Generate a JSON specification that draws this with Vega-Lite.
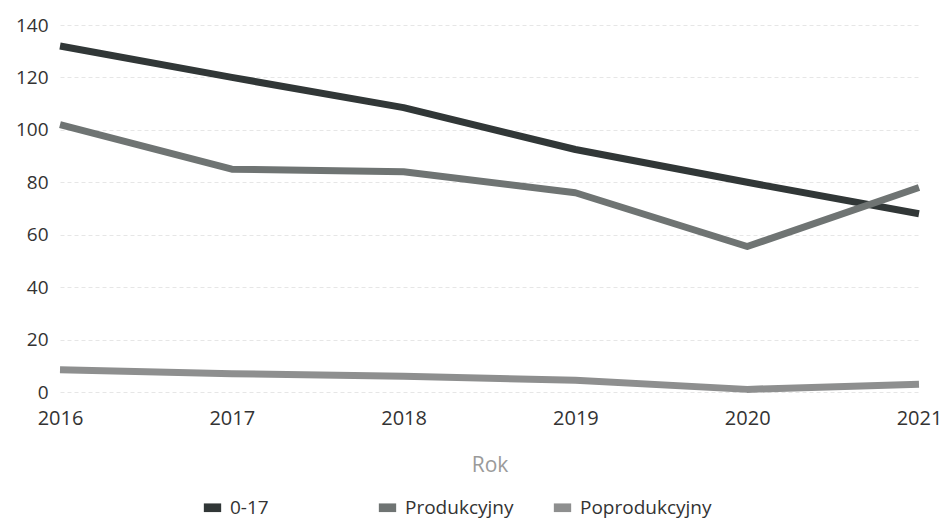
{
  "$schema": "https://vega.github.io/schema/vega-lite/v6.json",
  "width": 859,
  "height": 367,
  "autosize": {"type": "none"},
  "padding": {"left": 60, "top": 25, "right": 22, "bottom": 131},
  "background": "white",
  "config": {
    "font": "Open Sans",
    "view": {"stroke": null},
    "axis": {"labelFont": "Open Sans", "titleFont": "Open Sans"},
    "legend": {"labelFont": "Open Sans"}
  },
  "data": {
    "values": [
      {"Rok": "2016", "grupa": "0-17", "wartosc": 132},
      {"Rok": "2017", "grupa": "0-17", "wartosc": 120},
      {"Rok": "2018", "grupa": "0-17", "wartosc": 108.5},
      {"Rok": "2019", "grupa": "0-17", "wartosc": 92.5},
      {"Rok": "2020", "grupa": "0-17", "wartosc": 80},
      {"Rok": "2021", "grupa": "0-17", "wartosc": 68},
      {"Rok": "2016", "grupa": "Produkcyjny", "wartosc": 102},
      {"Rok": "2017", "grupa": "Produkcyjny", "wartosc": 85},
      {"Rok": "2018", "grupa": "Produkcyjny", "wartosc": 84},
      {"Rok": "2019", "grupa": "Produkcyjny", "wartosc": 76},
      {"Rok": "2020", "grupa": "Produkcyjny", "wartosc": 55.5},
      {"Rok": "2021", "grupa": "Produkcyjny", "wartosc": 78},
      {"Rok": "2016", "grupa": "Poprodukcyjny", "wartosc": 8.5},
      {"Rok": "2017", "grupa": "Poprodukcyjny", "wartosc": 7},
      {"Rok": "2018", "grupa": "Poprodukcyjny", "wartosc": 6},
      {"Rok": "2019", "grupa": "Poprodukcyjny", "wartosc": 4.5},
      {"Rok": "2020", "grupa": "Poprodukcyjny", "wartosc": 1},
      {"Rok": "2021", "grupa": "Poprodukcyjny", "wartosc": 3}
    ]
  },
  "mark": {"type": "line", "strokeWidth": 7, "strokeCap": "butt", "strokeJoin": "round"},
  "encoding": {
    "x": {
      "field": "Rok",
      "type": "ordinal",
      "scale": {"type": "point", "padding": 0},
      "axis": {
        "title": "Rok",
        "titleColor": "#9a9a9a",
        "titleFontSize": 21,
        "titleFontWeight": "normal",
        "titlePadding": 26,
        "labelAngle": 0,
        "labelFontSize": 20,
        "labelColor": "#333333",
        "labelPadding": 16,
        "domain": false,
        "ticks": false,
        "grid": false
      }
    },
    "y": {
      "field": "wartosc",
      "type": "quantitative",
      "scale": {"domain": [0, 140], "nice": false},
      "axis": {
        "title": null,
        "values": [0, 20, 40, 60, 80, 100, 120, 140],
        "labelFontSize": 19,
        "labelColor": "#333333",
        "labelPadding": 12,
        "domain": false,
        "ticks": false,
        "grid": true,
        "gridColor": "#e6e6e6",
        "gridDash": [4, 3],
        "gridWidth": 1
      }
    },
    "color": {
      "field": "grupa",
      "type": "nominal",
      "sort": ["0-17", "Produkcyjny", "Poprodukcyjny"],
      "scale": {
        "domain": ["0-17", "Produkcyjny", "Poprodukcyjny"],
        "range": ["#313737", "#6f7473", "#8e8f8f"]
      },
      "legend": {
        "title": null,
        "orient": "none",
        "legendX": 143,
        "legendY": 473,
        "direction": "horizontal",
        "columns": 3,
        "gridAlign": "all",
        "columnPadding": 16,
        "symbolType": "M-1,-0.5H1V0.5H-1Z",
        "symbolSize": 300,
        "symbolStrokeWidth": 0,
        "labelFontSize": 19,
        "labelColor": "#333333",
        "labelOffset": 8,
        "encode": {
          "symbols": {
            "update": {
              "fill": {"scale": "color", "field": "value"},
              "fillOpacity": {"value": 1}
            }
          }
        }
      }
    },
    "order": {"field": "Rok"}
  }
}
